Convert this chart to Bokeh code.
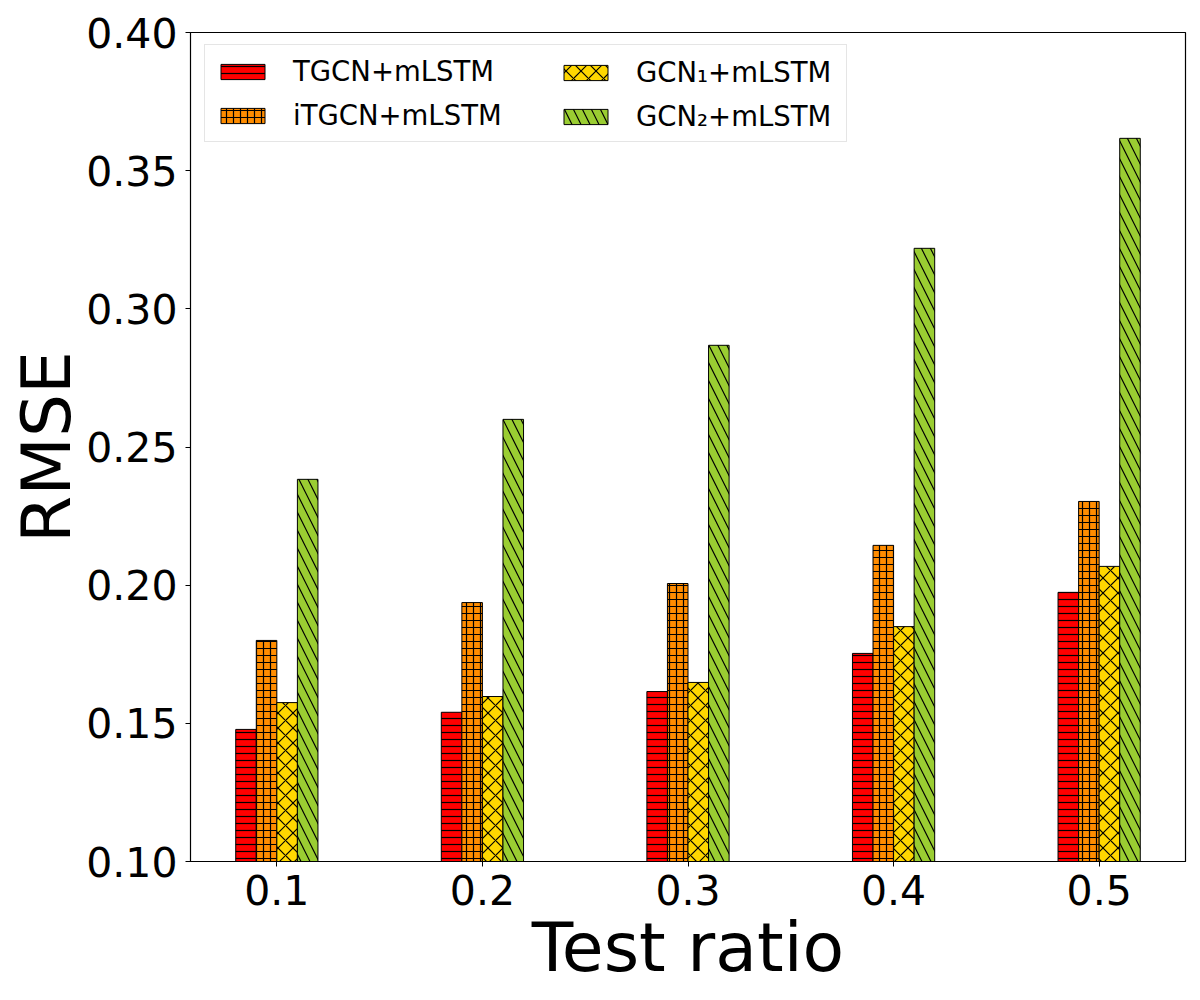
import numpy as np
from bokeh.plotting import figure
from bokeh.models import (ColumnDataSource, Range1d, FixedTicker, NumeralTickFormatter,
                          Legend, LegendItem)
from bokeh.transform import dodge
from bokeh.embed import file_html
from bokeh.resources import INLINE

ratios = ["0.1", "0.2", "0.3", "0.4", "0.5"]
tgcn = [0.1478, 0.1540, 0.1615, 0.1753, 0.1974]
itgcn = [0.1800, 0.1937, 0.2006, 0.2144, 0.2303]
gcn1 = [0.1575, 0.1597, 0.1648, 0.1850, 0.2068]
gcn2 = [0.2383, 0.2600, 0.2868, 0.3219, 0.3617]
names = ["TGCN+mLSTM", "iTGCN+mLSTM", "GCN\u2081+mLSTM", "GCN\u2082+mLSTM"]
colors = ["#ff0000", "#ff8c00", "#ffd700", "#9acd32"]
hatches = ["horizontal_line", "cross", "diagonal_cross", "left_diagonal_line"]
hscale = [7, 7, 15, 18]
offsets = [-0.15, -0.05, 0.05, 0.15]

FONT = "DejaVu Sans"
xpos = list(range(len(ratios)))
src = ColumnDataSource(dict(x=xpos, tgcn=tgcn, itgcn=itgcn, gcn1=gcn1, gcn2=gcn2))

p = figure(frame_width=995, frame_height=829, output_backend="svg", toolbar_location=None,
           x_range=Range1d(-0.42, 4.42), y_range=Range1d(0.10, 0.40),
           min_border_left=190, min_border_right=7, min_border_top=32, min_border_bottom=131)

renderers = []
for key, col, h, hs, off in zip(["tgcn", "itgcn", "gcn1", "gcn2"], colors, hatches, hscale, offsets):
    r = p.vbar(x=dodge("x", off), top=key, bottom=0, width=0.1, source=src,
               fill_color=col, line_color="black", line_width=1,
               hatch_pattern=h, hatch_color="black", hatch_weight=1.2, hatch_scale=hs)
    renderers.append(r)

p.xgrid.visible = False
p.ygrid.visible = False
p.outline_line_color = "black"
p.outline_line_width = 1.2
p.background_fill_color = "white"

p.xaxis.ticker = FixedTicker(ticks=xpos)
p.xaxis.major_label_overrides = {i: t for i, t in enumerate(ratios)}
p.yaxis.ticker = FixedTicker(ticks=[0.10, 0.15, 0.20, 0.25, 0.30, 0.35, 0.40])
p.yaxis.formatter = NumeralTickFormatter(format="0.00")
for ax in (p.xaxis, p.yaxis):
    ax.major_label_text_font = FONT
    ax.major_label_text_font_size = "41px"
    ax.major_label_text_color = "black"
    ax.axis_label_text_font = FONT
    ax.axis_label_text_font_size = "68px"
    ax.axis_label_text_font_style = "normal"
    ax.axis_label_text_color = "black"
    ax.major_tick_out = 5
    ax.major_tick_in = 0
    ax.minor_tick_out = 0
    ax.minor_tick_in = 0
    ax.axis_line_color = "black"
    ax.major_tick_line_color = "black"
p.xaxis.axis_label = "Test ratio"
p.yaxis.axis_label = "RMSE"
p.yaxis.major_label_standoff = 8
p.xaxis.major_label_standoff = 8
p.xaxis.axis_label_standoff = 0
p.yaxis.axis_label_standoff = -3

common = dict(label_text_font=FONT, label_text_font_size="27.5px", label_text_color="black",
              glyph_width=55, glyph_height=19, label_standoff=23, spacing=12, padding=10)
leg1 = Legend(items=[LegendItem(label=names[0], renderers=[renderers[0]]),
                     LegendItem(label=names[1], renderers=[renderers[1]])],
              location=(14, 829 - 13 - 97), label_width=543,
              border_line_color="#cccccc", border_line_width=1.2,
              background_fill_color="white", background_fill_alpha=0.8, **common)
leg2 = Legend(items=[LegendItem(label=names[2], renderers=[renderers[2]]),
                     LegendItem(label=names[3], renderers=[renderers[3]])],
              location=(358, 829 - 13 - 97), border_line_alpha=0,
              background_fill_alpha=0, **common)
p.add_layout(leg1, "center")
p.add_layout(leg2, "center")

open("out.html", "w").write(file_html(p, INLINE))
